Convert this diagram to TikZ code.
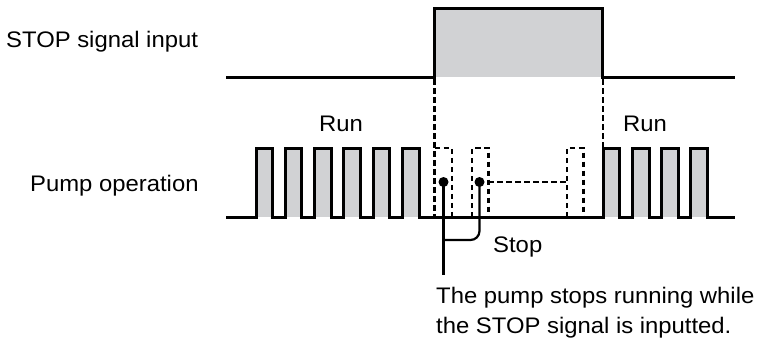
\documentclass[tikz,border=0pt]{standalone}
\usepackage{fontspec}
\setmainfont{Liberation Sans}
\usepackage{graphicx}
\definecolor{pulsegray}{HTML}{D1D2D4}
\begin{document}
\begin{tikzpicture}[x=1pt,y=-1pt,
  sig/.style={line width=3pt, line join=miter, line cap=rect},
  dsh/.style={line width=2.4pt, dash pattern=on 5.5pt off 3.5pt},
  lead/.style={line width=2.2pt},
  lbl/.style={inner sep=0pt, font=\fontsize{22.5}{28}\selectfont},
  dotnode/.style={circle, fill=black, inner sep=0pt, minimum size=10pt}]
\useasboundingbox (0,0) rectangle (760,340);
% coordinates
\coordinate (t0) at (227,77);
\coordinate (tr) at (434.5,77);
\coordinate (trt) at (434.5,8);
\coordinate (tf) at (602.7,77);
\coordinate (tft) at (602.7,8);
\coordinate (t1) at (733,77);
\coordinate (b0) at (227,217);
\coordinate (b1) at (733,217);
\coordinate (dl) at (434.5,217);
\coordinate (dr) at (602.7,148);
% top fill
\fill[pulsegray] (trt) rectangle (tf);
% pulse fills
\foreach \x in {256,285.3,314.6,343.9,373.2,402.5,603.3,632.4,661.5,690.7}
  \fill[pulsegray] (\x,148) rectangle ++(16.6,69);
% dashed lines
\draw[dsh] (434.5,79) -- (dl);
\draw[dsh] (602.7,79) -- (dr);
\draw[dsh] (434.5,148) -- (451.7,148) -- (451.7,217);
\draw[dsh] (472,217) -- (472,148) -- (488.4,148) -- (488.4,217);
\draw[dsh] (566.8,217) -- (566.8,148) -- (583.3,148) -- (583.3,217);
\draw[dsh] (488.4,182) -- (566.8,182);
% top signal
\draw[sig] (t0) -- (tr) -- (trt) -- (tft) -- (tf) -- (t1);
% pump waveform
\draw[sig] (b0)
  \foreach \x in {256,285.3,314.6,343.9,373.2,402.5,603.3,632.4,661.5,690.7} {
    -- (\x,217) -- (\x,148) -- (\x+16.6,148) -- (\x+16.6,217) }
  -- (b1);
% dots and leaders
\node[dotnode] (d1) at (443.5,182) {};
\node[dotnode] (d2) at (479.5,182) {};
\coordinate (l1end) at (443.5,275);
\coordinate (l2end) at (443.5,240);
\draw[lead] (d1.center) -- (l1end);
\draw[lead, rounded corners=9pt] (d2.center) |- (l2end);
% labels
\node[lbl, anchor=base west] (sig) at (6,47) {\scalebox{1.06}[1]{STOP signal input}};
\node[lbl, anchor=base west] (pump) at (30,191) {\scalebox{1.06}[1]{Pump operation}};
\node[lbl, anchor=base west] (run1) at (319,131) {\scalebox{1.06}[1]{Run}};
\node[lbl, anchor=base west] (run2) at (623,131) {\scalebox{1.06}[1]{Run}};
\node[lbl, anchor=base west] (stop) at (493,252) {\scalebox{1.06}[1]{Stop}};
\node[lbl, anchor=base west] (note1) at (436,303) {\scalebox{1.06}[1]{The pump stops running while}};
\node[lbl, anchor=base west] (note2) at (436,333) {\scalebox{1.06}[1]{the STOP signal is inputted.}};
\end{tikzpicture}
\end{document}
